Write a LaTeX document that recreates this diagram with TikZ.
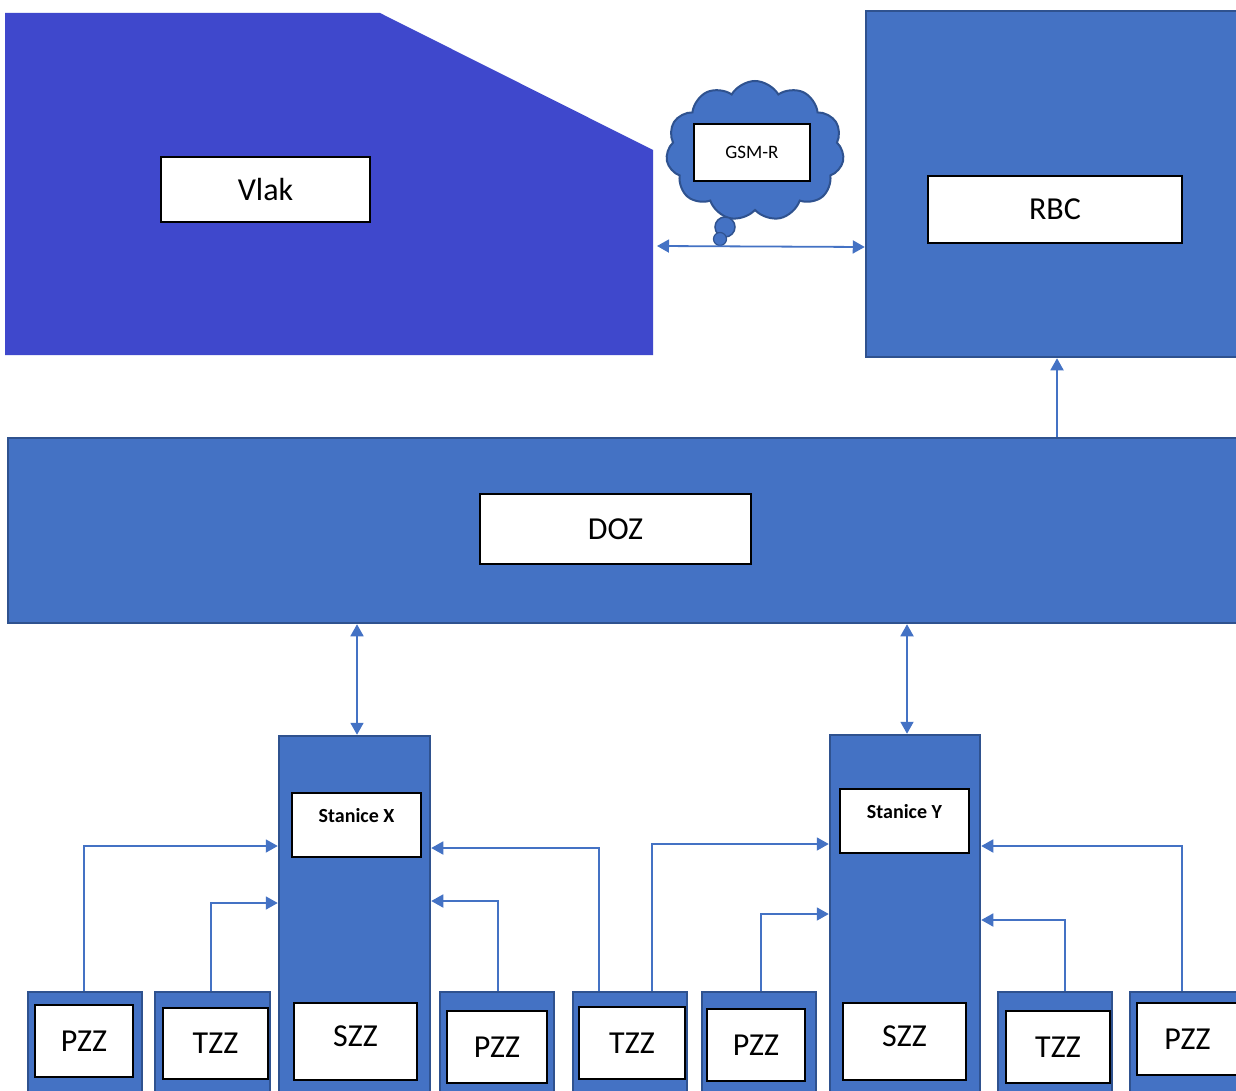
\documentclass[tikz,border=0pt]{standalone}
\usepackage{fontspec}
\setmainfont{Carlito}
\usetikzlibrary{arrows.meta,shapes.symbols,calc}
\definecolor{vlakblue}{RGB}{63,72,204}
\definecolor{mblue}{RGB}{68,114,196}
\definecolor{dblue}{RGB}{47,82,143}
\begin{document}
\begin{tikzpicture}[x=1pt,y=-1pt,
  bluebox/.style={rectangle, draw=dblue, fill=mblue, line width=2.5pt, inner sep=0pt},
  whitebox/.style={rectangle, draw=black, fill=white, line width=1.6pt, inner sep=0pt, font=\fontsize{32}{36}\selectfont},
  stabox/.style={whitebox, font=\bfseries\fontsize{20}{24}\selectfont, text height=14pt, text depth=20pt},
  conn/.style={draw=mblue, line width=1.8pt, -{Triangle[length=12pt,width=13pt]}},
  dconn/.style={draw=mblue, line width=1.8pt, {Triangle[length=12pt,width=13pt]}-{Triangle[length=12pt,width=13pt]}}
]
\useasboundingbox (0,0) rectangle (1236,1091);
\fill[white] (0,0) rectangle (1236,1091);

% Vlak (train)
\fill[vlakblue] (5,13) -- (380,13) -- (653,150) -- (653,355) -- (5,355) -- cycle;
\coordinate (vlakR) at (657,246);
\node[whitebox, minimum width=209pt, minimum height=65pt] (vlak) at (265.5,189.5) {Vlak};

% RBC
\node[bluebox, minimum width=371pt, minimum height=346pt] (rbc) at (1051.5,184) {};
\node[whitebox, minimum width=254pt, minimum height=67pt] (rbcl) at (1055,209.5) {RBC};

% Cloud GSM-R
\node[cloud, cloud puffs=11, cloud puff arc=120, aspect=1.25, draw=dblue, fill=mblue, line width=2pt, minimum width=178pt, minimum height=140pt, inner sep=0pt] (cloud) at (755,151) {};
\draw[draw=dblue, fill=mblue, line width=1.5pt] (725,227) circle (10pt);
\draw[draw=dblue, fill=mblue, line width=1.2pt] (720,239) circle (6.5pt);
\node[whitebox, font=\fontsize{19}{22}\selectfont, minimum width=116pt, minimum height=57pt] (gsm) at (752,152.5) {GSM-R};

% Vlak <-> RBC
\draw[dconn] (vlakR) -- (rbc.west |- 0,247);

% DOZ
\node[bluebox, minimum width=1229pt, minimum height=185pt] (doz) at (622.5,530.5) {};
\node[whitebox, minimum width=271pt, minimum height=70pt] (dozl) at (615.5,529) {DOZ};
\draw[conn] ([xshift=5.5pt]rbc.south |- doz.north) -- ([xshift=5.5pt]rbc.south);

% Stations
\node[bluebox, minimum width=151pt, minimum height=359pt] (stx) at (354.5,915.5) {};
\node[stabox, minimum width=129pt, minimum height=64pt] (stxl) at (356.5,825) {Stanice X};
\node[whitebox, text depth=10pt, minimum width=123pt, minimum height=77pt] (szzx) at (355.5,1041.5) {SZZ};

\node[bluebox, minimum width=150pt, minimum height=360pt] (sty) at (905,915) {};
\node[stabox, minimum width=129pt, minimum height=64pt] (styl) at (904.5,821) {Stanice Y};
\node[whitebox, text depth=10pt, minimum width=123pt, minimum height=77pt] (szzy) at (904.5,1041.5) {SZZ};

\draw[dconn] ([xshift=2.5pt]stx.north |- doz.south) -- ([xshift=2.5pt]stx.north);
\draw[dconn] ([xshift=2pt]sty.north |- doz.south) -- ([xshift=2pt]sty.north);

% Bottom equipment boxes
\node[bluebox, minimum width=114pt, minimum height=103pt] (p1) at (85,1043.5) {};
\node[whitebox, minimum width=98pt, minimum height=72pt] (p1l) at (84,1041) {PZZ};
\node[bluebox, minimum width=115pt, minimum height=103pt] (t1) at (212.5,1043.5) {};
\node[whitebox, minimum width=105pt, minimum height=71pt] (t1l) at (215.5,1043.5) {TZZ};
\node[bluebox, minimum width=114pt, minimum height=103pt] (p2) at (497,1043.5) {};
\node[whitebox, minimum width=100pt, minimum height=72pt] (p2l) at (497,1047) {PZZ};
\node[bluebox, minimum width=114pt, minimum height=103pt] (t2) at (630,1043.5) {};
\node[whitebox, minimum width=106pt, minimum height=72pt] (t2l) at (632,1043) {TZZ};
\node[bluebox, minimum width=114pt, minimum height=103pt] (p3) at (759,1043.5) {};
\node[whitebox, minimum width=98pt, minimum height=72pt] (p3l) at (756,1045) {PZZ};
\node[bluebox, minimum width=114pt, minimum height=103pt] (t3) at (1055,1043.5) {};
\node[whitebox, minimum width=104pt, minimum height=72pt] (t3l) at (1058,1047) {TZZ};
\node[bluebox, minimum width=108pt, minimum height=103pt] (p4) at (1184,1043.5) {};
\node[whitebox, minimum width=101pt, minimum height=72pt] (p4l) at (1187.5,1039) {PZZ};

% Connectors to stations
\draw[conn] ([xshift=-1pt]p1.north) |- (stx.west |- 0,846);
\draw[conn] ([xshift=-1.5pt]t1.north) |- (stx.west |- 0,903);
\draw[conn] ([xshift=1pt]p2.north) |- (stx.east |- 0,901);
\draw[conn] ([xshift=-31pt]t2.north) |- (stx.east |- 0,848);
\draw[conn] ([xshift=22pt]t2.north) |- (sty.west |- 0,844);
\draw[conn] ([xshift=2pt]p3.north) |- (sty.west |- 0,914);
\draw[conn] ([xshift=10pt]t3.north) |- (sty.east |- 0,920);
\draw[conn] ([xshift=-2pt]p4.north) |- (sty.east |- 0,846);
\end{tikzpicture}
\end{document}
